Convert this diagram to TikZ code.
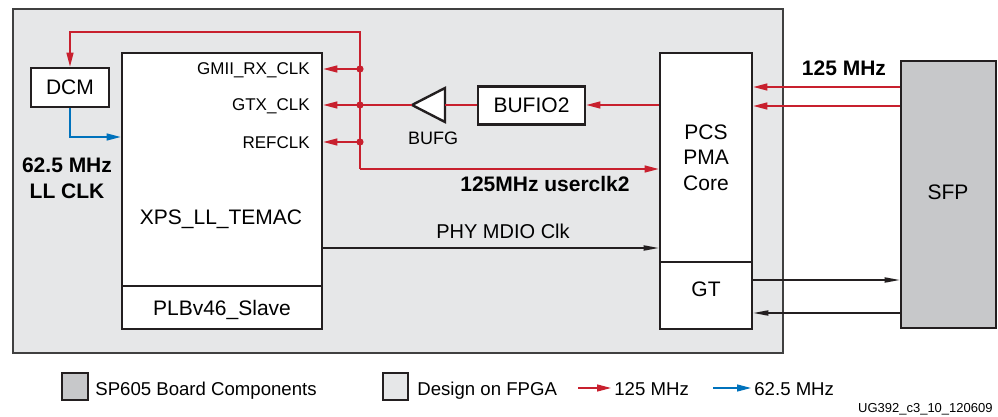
\documentclass[tikz,border=0pt]{standalone}
\usepackage{fontspec}
\setmainfont{Liberation Sans}
\usetikzlibrary{arrows.meta}
\definecolor{clkred}{RGB}{200,32,46}
\definecolor{clkblue}{RGB}{0,114,188}
\definecolor{fpgagray}{RGB}{230,231,232}
\definecolor{boardgray}{RGB}{199,200,202}
\definecolor{edgeblack}{RGB}{35,31,32}
\begin{document}
\begin{tikzpicture}[x=.5pt, y=-.5pt, line join=miter, >={Triangle[length=7pt,width=3.5pt]},
		blk/.style={draw=edgeblack, line width=1.35pt, fill=white, inner sep=0pt, font=\fontsize{10.5}{12.75}\selectfont},
		lbl/.style={inner sep=0pt, anchor=base, font=\fontsize{10.5}{12.75}\selectfont},
		bold/.style={lbl, font=\fontsize{10.5}{12.75}\selectfont\bfseries},
		port/.style={inner sep=0pt, anchor=base east, font=\fontsize{8.5}{10}\selectfont},
		key/.style={inner sep=0pt, anchor=base west, font=\fontsize{9.3}{11}\selectfont},
		r125/.style={draw=clkred, line width=.65pt},
		b62/.style={draw=clkblue, line width=.65pt},
		sig/.style={draw=edgeblack, line width=.65pt, >={Triangle[length=7.5pt,width=2.6pt]}}]
			\def\u{.5pt}
			\useasboundingbox (0,0) rectangle (998,417);
			\node[draw=black!75, fill=fpgagray, line width=1.15pt, inner sep=0pt, minimum width=770*\u, minimum height=344*\u] (fpga) at (398,181) {};
			
			\node[blk, minimum width=78*\u, minimum height=39*\u] (dcm) at (70,87.5) {DCM};
			\node[blk, minimum width=200*\u, minimum height=233*\u] (temac) at (222,169.5) {};
			\node[blk, minimum width=200*\u, minimum height=43*\u, text depth=0pt] (plb) at (222,307.5) {PLBv46\_Slave};
			\node[blk, minimum width=107*\u, minimum height=38*\u] (bufio) at (531.5,105.5) {BUFIO2};
			\node[blk, minimum width=92*\u, minimum height=209*\u, align=center] (pcs) at (706,157.5) {PCS\\PMA\\Core};
			\node[blk, minimum width=92*\u, minimum height=67*\u] (gt) at (706,295.5) {};
			\node[blk, fill=boardgray, minimum width=95*\u, minimum height=267*\u] (sfp) at (948.5,194.5) {};
			
			\node[lbl] (temaclbl) at (221,225) {XPS\_LL\_TEMAC};
			\node[port] (gmii) at (310,75) {GMII\_RX\_CLK};
			\node[port] (gtx) at (310,111) {GTX\_CLK};
			\node[port] (refclk) at (310,149) {REFCLK};
			\node[lbl, font=\fontsize{9}{11}\selectfont] (bufglbl) at (433,145) {BUFG};
			\node[bold] (llclk) at (67,173) {62.5 MHz};
			\node[bold] (llclkb) at (67,199) {LL CLK};
			\node[bold] (userclk) at (545,192) {125MHz userclk2};
			\node[bold] (sfpclk) at (844,76) {125 MHz};
			\node[lbl, font=\fontsize{10}{12}\selectfont] (mdiolbl) at (503,239) {PHY MDIO Clk};
			\node[lbl] (gtlbl) at (706,297) {GT};
			\node[lbl] (sfplbl) at (948,200) {SFP};
			
			\path 
			(360,32) coordinate (top)
			(360,69) coordinate (jg)
			(360,105) coordinate (jt)
			(360,142) coordinate (jr)
			(360,169) coordinate (trunk)
			(412,105) coordinate (bufgout)
			(445,88) coordinate (bufgtop)
			(445,122) coordinate (bufgbot)
			(445,105) coordinate (bufgin)
			;
			\draw[blk, line width=1.2pt] (bufgout)--(bufgtop)--(bufgbot)--cycle;
			
			% 125 MHz clock tree
			\draw[r125,->] (trunk)--(top)-|(dcm.north);
			\draw[r125,->] (trunk)--(trunk-|pcs.west);
			\foreach \j in {jg,jt,jr}{\draw[r125,->] (\j)--(\j-|temac.east);}
			\draw[r125] (bufio.west|-bufgin)--(bufgin) (bufgout)--(jt);
			\draw[r125,->] (pcs.west|-bufgin)--(bufio.east|-bufgin);
			\foreach \y in {87,106}{\draw[r125,->] (sfp.west|-0,\y)--(pcs.east|-0,\y);}
			\foreach \j in {jg,jt,jr}{\fill[clkred] (\j) circle (1.8pt);}
			
			\draw[b62,->] (dcm.south)|-(temac.west|-0,137);
			\draw[sig,->] (temac.east|-0,248)--(pcs.west|-0,248);
			\draw[sig,->] (gt.east|-0,280)--(sfp.west|-0,280);
			\draw[sig,->] (sfp.west|-0,313)--(gt.east|-0,313);
			
			% legend
			\node[blk, fill=boardgray, line width=1.2pt, minimum width=26*\u, minimum height=27*\u] (keyboard) at (75,386.5) {};
			\node[key] (keyboardlbl) at (95,395) {SP605 Board Components};
			\node[blk, fill=fpgagray, line width=1.2pt, minimum width=25*\u, minimum height=27*\u] (keyfpga) at (395.5,386.5) {};
			\node[key] (keyfpgalbl) at (417,395) {Design on FPGA};
			\path (578,388) coordinate (k125a) (611,388) coordinate (k125b)
			(713,388) coordinate (k62a) (751,388) coordinate (k62b);
			\draw[r125,->] (k125a)--(k125b);
			\node[key] (k125lbl) at (614,395) {125 MHz};
			\draw[b62,->] (k62a)--(k62b);
			\node[key] (k62lbl) at (754,395) {62.5 MHz};
			\node[inner sep=0pt, anchor=base east, font=\fontsize{6.5}{8}\selectfont] (figid) at (993,413) {UG392\_c3\_10\_120609};
		\end{tikzpicture}
\end{document}
